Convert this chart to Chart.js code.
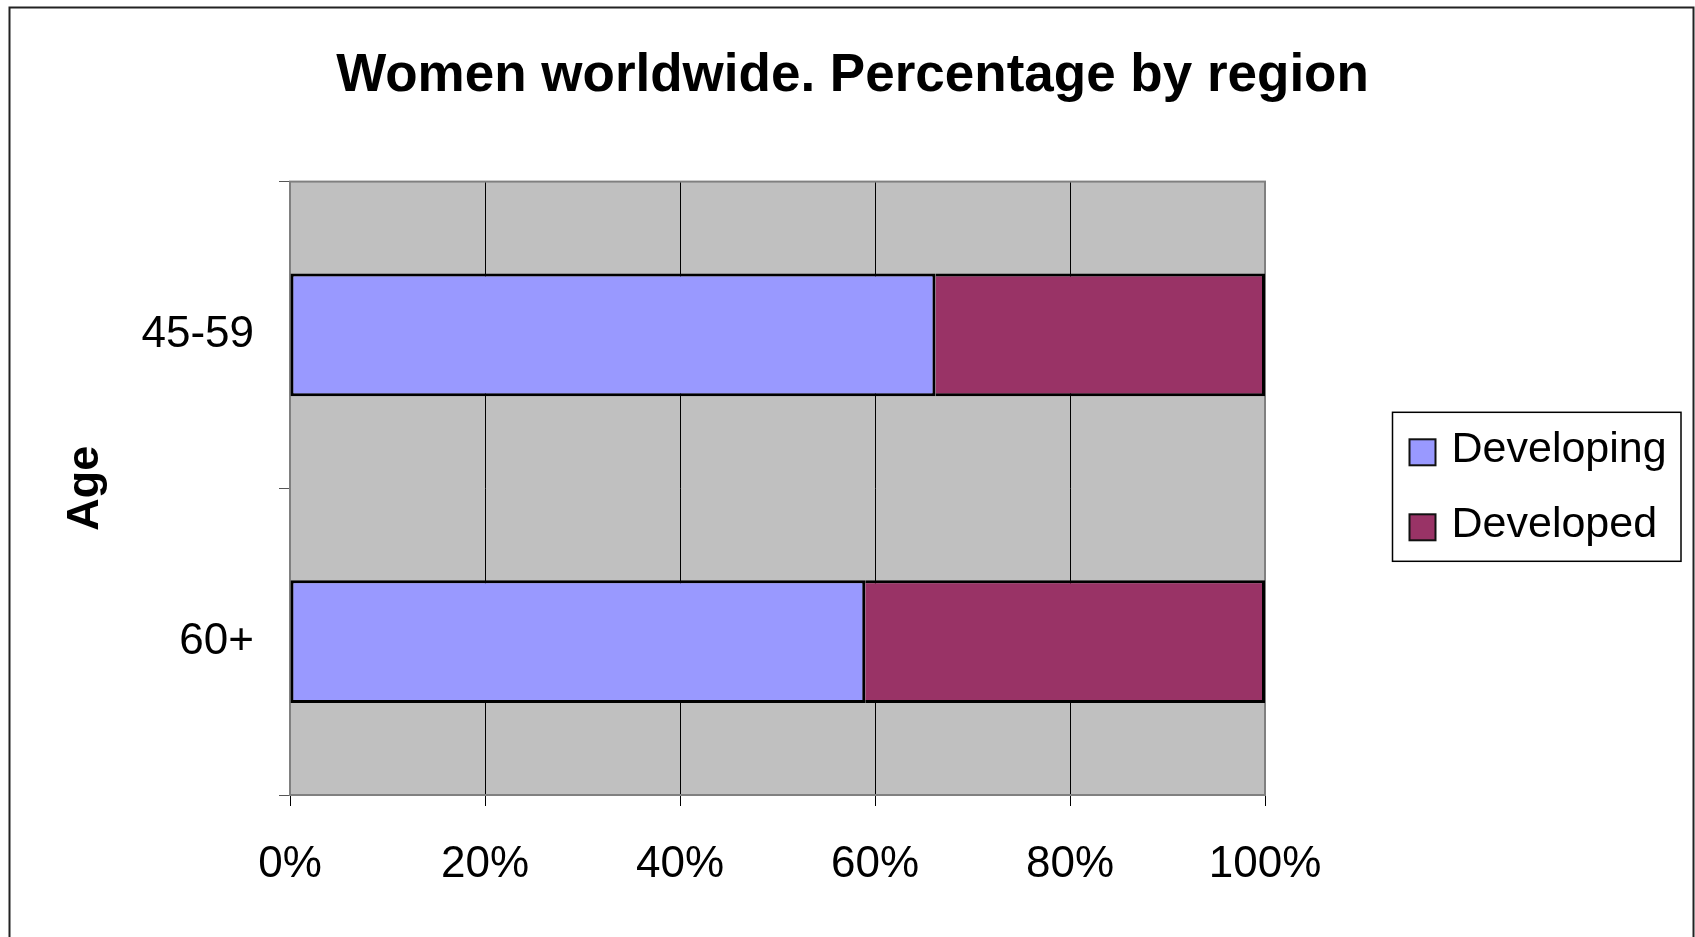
<!DOCTYPE html>
<html>
<head>
<meta charset="utf-8">
<title>Women worldwide</title>
<script src="https://cdn.jsdelivr.net/npm/chart.js@4.4.1/dist/chart.umd.min.js"></script>
<style>
    html, body { margin: 0; padding: 0; background: #fff; overflow: hidden; }
    canvas { display: block; }
</style>
</head>
<body>
<canvas id="women-region-chart" width="1695" height="937"></canvas>
<script>
// Women worldwide, share by region for each age group

let ageGroups = ['45-59', '60+'];
let developingData = [66.2, 59.0];
let developedData = [33.8, 41.0];
let percentTicks = ['0%', '20%', '40%', '60%', '80%', '100%'];

let developingColor = '#9999FF';
let developedColor = '#993366';
let fontFamily = '"Liberation Sans", Arial, Helvetica, sans-serif';

// grey plot background + frame round the chart area
const plotFrame = {
    id: 'plotFrame',
    beforeDraw(chart) {
        const {ctx, chartArea: a} = chart;
        ctx.save();
        ctx.fillStyle = '#C0C0C0';
        ctx.fillRect(a.left, a.top, a.right - a.left, a.bottom - a.top);
        ctx.restore();
    },
    beforeDatasetsDraw(chart) {
        const {ctx, chartArea: a} = chart;
        ctx.save();
        ctx.strokeStyle = '#808080';
        ctx.lineWidth = 2;
        ctx.strokeRect(a.left, a.top, a.right - a.left, a.bottom - a.top);
        ctx.restore();
    },
    afterDraw(chart) {
        const ctx = chart.ctx;
        ctx.save();
        ctx.strokeStyle = '#222';
        ctx.lineWidth = 2;
        ctx.strokeRect(9.5, 7.5, chart.width - 11, chart.height + 20);
        ctx.restore();
    }
};

// legend living in its own box on the right of the plot
function drawSideLegend(chart) {
    const {ctx, chartArea} = chart;
    const left = chartArea.right + 127.5;
    const top = (chartArea.top + chartArea.bottom) / 2 - 76;
    ctx.save();
    ctx.strokeStyle = '#000';
    ctx.lineWidth = 1.5;
    ctx.strokeRect(left, top, 288.5, 149);
    ctx.font = '43px ' + fontFamily;
    ctx.textBaseline = 'middle';
    ctx.textAlign = 'left';
    chart.data.datasets.forEach(function (ds, i) {
        let y = top + 40 + i * 75;
        ctx.fillStyle = ds.backgroundColor;
        ctx.fillRect(left + 17, y - 13, 26, 26);
        ctx.lineWidth = 2;
        ctx.strokeStyle = '#111';
        ctx.strokeRect(left + 17, y - 13, 26, 26);
        ctx.fillStyle = '#000';
        ctx.fillText(ds.label, left + 59, y - 2);
    });
    ctx.restore();
}

const sideLegend = {
    id: 'sideLegend',
    beforeInit(chart) {
        const box = {
            position: 'right',
            weight: 500,
            fullSize: false,
            options: {},
            width: 430,
            height: 0,
            isHorizontal() { return false; },
            update(maxWidth, maxHeight) {
                this.width = 430;
                this.height = maxHeight;
            },
            draw() { drawSideLegend(chart); }
        };
        Chart.layouts.addBox(chart, box);
    }
};

let regionCtx = document.getElementById('women-region-chart').getContext('2d');

let regionChart = new Chart(regionCtx, {
    type: 'bar',
    data: {
        labels: ageGroups,
        datasets: [{
            label: 'Developing',
            data: developingData,
            backgroundColor: developingColor,
            borderColor: '#000',
            borderWidth: 3,
            borderSkipped: false,
            barPercentage: 0.4,
            categoryPercentage: 1.0
        },
        {
            label: 'Developed',
            data: developedData,
            backgroundColor: developedColor,
            borderColor: '#000',
            borderWidth: 3,
            borderSkipped: 'left',
            barPercentage: 0.4,
            categoryPercentage: 1.0
        }]
    },
    options: {
        indexAxis: 'y',
        responsive: false,
        animation: false,
        layout: {
            padding: { left: 10, right: 0, top: 0, bottom: 0 }
        },
        scales: {
            x: {
                stacked: true,
                min: 0,
                max: 100,
                border: { display: false },
                grid: {
                    color: '#000',
                    lineWidth: 1,
                    drawTicks: true,
                    tickLength: 11,
                    tickColor: '#000'
                },
                ticks: {
                    stepSize: 20,
                    color: '#000',
                    padding: 32,
                    font: { family: fontFamily, size: 44 },
                    callback: function (value, index) {
                        return percentTicks[index];
                    }
                },
                afterFit(scale) {
                    scale.height = 142;
                }
            },
            y: {
                stacked: true,
                border: { display: false },
                grid: {
                    drawOnChartArea: false,
                    drawTicks: true,
                    tickLength: 11,
                    tickColor: '#555'
                },
                ticks: {
                    color: '#000',
                    padding: 25,
                    font: { family: fontFamily, size: 44 }
                },
                title: {
                    display: true,
                    text: 'Age',
                    color: '#000',
                    padding: { top: 49, bottom: 0 },
                    font: { family: fontFamily, size: 45, weight: 'bold' }
                },
                afterFit(scale) {
                    scale.width = 280;
                }
            }
        },
        plugins: {
            legend: {
                display: false
            },
            tooltip: {
                enabled: false
            },
            title: {
                display: true,
                text: 'Women worldwide. Percentage by region',
                color: '#000',
                padding: { top: 45, bottom: 73 },
                font: { family: fontFamily, size: 53, weight: 'bold' }
            }
        }
    },
    plugins: [plotFrame, sideLegend]
});
</script>
</body>
</html>
